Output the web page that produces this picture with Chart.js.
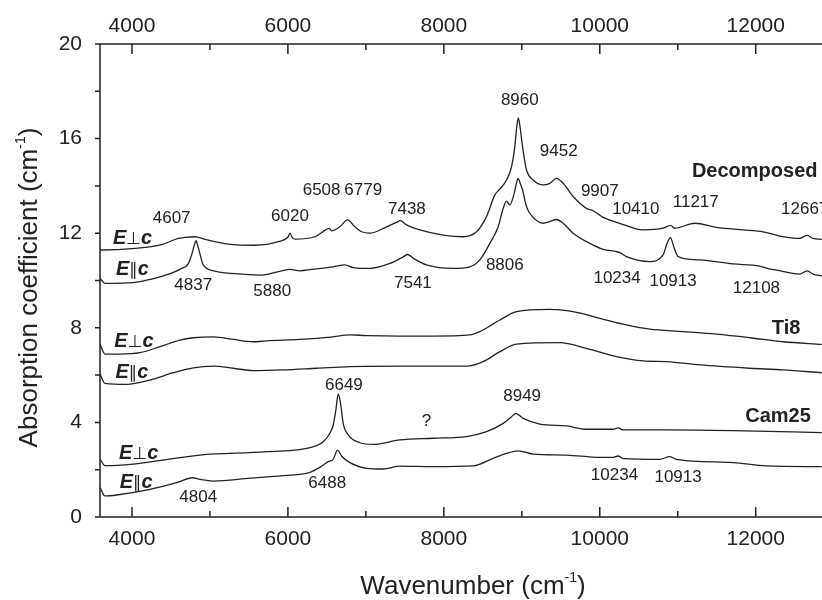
<!DOCTYPE html>
<html>
<head>
<meta charset="utf-8">
<script src="https://cdn.jsdelivr.net/npm/chart.js@4.4.1/dist/chart.umd.min.js"></script>
<style>
  html, body { margin: 0; padding: 0; background: #fff; }
  #wrap { width: 822px; height: 600px; }
</style>
</head>
<body>
<div id="wrap"><canvas id="spectra" width="822" height="600"></canvas></div>
<script>
// wavenumber (cm-1), absorption coefficient (cm-1)
const decPerp = [
  [3590, 11.32], [3612, 11.29], [4038, 11.36], [4380, 11.52], [4594, 11.78], [4679, 11.82],
  [4808, 11.85], [4936, 11.74], [5235, 11.54], [5577, 11.49], [5876, 11.64], [6004, 11.85],
  [6026, 12.0], [6060, 11.8], [6090, 11.75], [6346, 11.85], [6496, 12.16], [6530, 12.2],
  [6560, 12.1], [6667, 12.27], [6765, 12.56], [6859, 12.27], [6945, 12.06], [7051, 12.0],
  [7265, 12.27], [7414, 12.49], [7440, 12.53], [7522, 12.35], [7692, 12.14], [7991, 11.92],
  [8248, 11.85], [8419, 12.06], [8547, 12.7], [8654, 13.62], [8718, 13.86], [8804, 14.25],
  [8868, 14.81], [8910, 15.66], [8935, 16.5], [8955, 16.88], [8975, 16.55], [9000, 15.9],
  [9030, 15.2], [9060, 14.67], [9145, 14.25], [9274, 14.04], [9359, 14.11], [9444, 14.32],
  [9530, 14.11], [9658, 13.55], [9829, 13.05], [9914, 12.95], [10043, 12.67], [10256, 12.42],
  [10555, 12.14], [10812, 12.21], [10906, 12.33], [10962, 12.21], [11218, 12.42], [11496, 12.25],
  [11838, 12.14], [12094, 12.06], [12308, 11.88], [12564, 11.78], [12658, 11.91], [12735, 11.78],
  [12846, 11.74]
];
const decPar = [
  [3590, 10.09], [3654, 9.88], [4017, 9.91], [4252, 10.06], [4500, 10.3], [4637, 10.51],
  [4722, 10.7], [4765, 11.08], [4800, 11.5], [4822, 11.68], [4845, 11.45], [4870, 11.15],
  [4914, 10.66], [5064, 10.4], [5449, 10.26], [5663, 10.23], [5919, 10.41], [6026, 10.47],
  [6154, 10.41], [6304, 10.47], [6581, 10.58], [6731, 10.66], [6838, 10.54], [6945, 10.51],
  [7051, 10.51], [7308, 10.72], [7479, 11.0], [7534, 11.1], [7607, 10.94], [7778, 10.66],
  [8120, 10.51], [8333, 10.58], [8462, 10.87], [8590, 11.57], [8697, 12.27], [8761, 13.05],
  [8804, 13.36], [8846, 13.19], [8897, 13.62], [8930, 14.1], [8953, 14.32], [8980, 14.1],
  [9009, 13.83], [9060, 13.12], [9145, 12.67], [9274, 12.42], [9359, 12.49], [9444, 12.58],
  [9530, 12.42], [9658, 12.0], [9872, 11.57], [10043, 11.32], [10214, 11.22], [10256, 11.18],
  [10342, 11.01], [10641, 10.8], [10812, 11.08], [10863, 11.57], [10906, 11.81], [10949, 11.43],
  [11004, 11.01], [11282, 10.87], [11709, 10.7], [12051, 10.61], [12137, 10.52], [12265, 10.44],
  [12564, 10.27], [12658, 10.41], [12735, 10.27], [12846, 10.19]
];
const ti8Perp = [
  [3590, 7.3], [3654, 6.89], [3846, 6.89], [4103, 6.95], [4359, 7.2], [4615, 7.48],
  [4786, 7.58], [5043, 7.62], [5299, 7.51], [5556, 7.41], [5727, 7.45], [6154, 7.51],
  [6581, 7.62], [6795, 7.7], [7009, 7.67], [7436, 7.65], [7863, 7.65], [8333, 7.7],
  [8462, 7.84], [8718, 8.33], [8932, 8.68], [9359, 8.78], [9658, 8.68], [10000, 8.4],
  [10342, 8.12], [10641, 7.94], [11068, 7.84], [11496, 7.73], [11923, 7.58], [12350, 7.41],
  [12846, 7.3]
];
const ti8Par = [
  [3590, 6.05], [3654, 5.65], [3932, 5.61], [4231, 5.79], [4530, 6.1], [4786, 6.31],
  [5043, 6.38], [5299, 6.29], [5556, 6.19], [5940, 6.22], [6368, 6.29], [6795, 6.36],
  [7436, 6.38], [8291, 6.38], [8504, 6.57], [8718, 6.99], [8932, 7.31], [9487, 7.37],
  [9829, 7.13], [10214, 6.78], [10556, 6.6], [10855, 6.57], [11282, 6.43], [11923, 6.29],
  [12350, 6.22], [12846, 6.1]
];
const camPerp = [
  [3590, 2.45], [3654, 2.17], [4017, 2.24], [4872, 2.62], [5727, 2.76], [6325, 2.97],
  [6453, 3.18], [6538, 3.54], [6581, 3.89], [6615, 4.52], [6645, 5.19], [6675, 4.81],
  [6709, 3.96], [6774, 3.47], [6923, 3.14], [7094, 3.07], [7436, 3.26], [7863, 3.33],
  [8291, 3.4], [8547, 3.61], [8761, 3.96], [8868, 4.24], [8923, 4.38], [9017, 4.17],
  [9231, 3.93], [9573, 3.85], [9829, 3.71], [10171, 3.71], [10235, 3.77], [10299, 3.68],
  [10855, 3.68], [11709, 3.65], [12846, 3.57]
];
const camPar = [
  [3590, 1.25], [3654, 0.89], [3804, 0.93], [4231, 1.17], [4573, 1.45], [4778, 1.66],
  [4872, 1.59], [5043, 1.52], [5513, 1.64], [5940, 1.75], [6282, 1.89], [6410, 2.1],
  [6517, 2.34], [6581, 2.44], [6637, 2.83], [6688, 2.58], [6795, 2.3], [7009, 2.06],
  [7222, 2.03], [7436, 2.15], [7863, 2.13], [8376, 2.16], [8632, 2.48], [8803, 2.69],
  [8953, 2.8], [9145, 2.66], [9573, 2.62], [10000, 2.52], [10171, 2.52], [10235, 2.58],
  [10299, 2.47], [10769, 2.44], [10897, 2.55], [10983, 2.44], [11709, 2.3], [12137, 2.16],
  [12846, 2.13]
];

const xTicks = [4000, 5000, 6000, 7000, 8000, 9000, 10000, 11000, 12000];
const yTicks = [0, 2, 4, 6, 8, 10, 12, 14, 16, 18, 20];

// peak annotations: text, wavenumber, absorption
const peakLabels = [
  ['4607', 4509, 12.63], ['6020', 6026, 12.7], ['6508', 6432, 13.8], ['6779', 6966, 13.8],
  ['7438', 7526, 13.0], ['8960', 8974, 17.63], ['9452', 9474, 15.45], ['9907', 10000, 13.76],
  ['10410', 10462, 13.0], ['11217', 11231, 13.3], ['12667', 12628, 13.0],
  ['4837', 4786, 9.78], ['5880', 5799, 9.53], ['7541', 7603, 9.9], ['8806', 8782, 10.66],
  ['10234', 10222, 10.09], ['10913', 10940, 9.98], ['12108', 12009, 9.67],
  ['6649', 6718, 5.55], ['?', 7778, 4.03], ['8949', 9004, 5.09],
  ['4804', 4850, 0.83], ['6488', 6504, 1.42], ['10234', 10188, 1.78], ['10913', 11004, 1.66]
];
const sampleLabels = [['Decomposed', 11987, 14.6], ['Ti8', 12389, 7.97], ['Cam25', 12286, 4.24]];
// polarisation labels: symbol, wavenumber, absorption
const polLabels = [
  ['\u22a5', 4007, 11.86], ['\u2225', 4007, 10.51],
  ['\u22a5', 4026, 7.48], ['\u2225', 4000, 6.19],
  ['\u22a5', 4086, 2.76], ['\u2225', 4055, 1.52]
];

const FONT = '"Liberation Sans", Arial, Helvetica, sans-serif';
const INK = '#222';

function drawSupText(ctx, parts, x, y, size) {
    // parts: [main, sup, tail]; centred on x
    ctx.font = size + 'px ' + FONT;
    const w1 = ctx.measureText(parts[0]).width;
    const w3 = ctx.measureText(parts[2]).width;
    ctx.font = Math.round(size * 0.55) + 'px ' + FONT;
    const w2 = ctx.measureText(parts[1]).width;
    let sx = x - (w1 + w2 + w3) / 2;
    ctx.textAlign = 'left';
    ctx.textBaseline = 'alphabetic';
    ctx.font = size + 'px ' + FONT;
    ctx.fillText(parts[0], sx, y);
    ctx.font = Math.round(size * 0.55) + 'px ' + FONT;
    ctx.fillText(parts[1], sx + w1, y - size * 0.45);
    ctx.font = size + 'px ' + FONT;
    ctx.fillText(parts[2], sx + w1 + w2, y);
}

function drawPolLabel(ctx, sym, x, y) {
    const bi = 'italic bold 20px ' + FONT;
    const rg = '17px "DejaVu Sans", ' + FONT;
    ctx.font = bi;
    const wE = ctx.measureText('E').width;
    const wc = ctx.measureText('c').width;
    ctx.font = rg;
    const ws = ctx.measureText(sym).width;
    const base = y + 7;
    let sx = x - (wE + ws + wc) / 2;
    ctx.textAlign = 'left';
    ctx.textBaseline = 'alphabetic';
    ctx.font = bi;
    ctx.fillText('E', sx, base);
    ctx.font = rg;
    ctx.fillText(sym, sx + wE, base);
    ctx.font = bi;
    ctx.fillText('c', sx + wE + ws, base);
}

const framePlugin = {
    id: 'frame',
    afterDraw(chart) {
        const { ctx, chartArea: a, scales: { x, y } } = chart;
        ctx.save();
        ctx.strokeStyle = INK;
        ctx.lineWidth = 1.5;
        ctx.beginPath();
        ctx.moveTo(a.left, a.top); ctx.lineTo(a.right, a.top);
        ctx.moveTo(a.left, a.top); ctx.lineTo(a.left, a.bottom);
        ctx.moveTo(a.left, a.bottom); ctx.lineTo(a.right, a.bottom);
        xTicks.forEach(v => {
            const px = x.getPixelForValue(v);
            const len = v % 2000 === 0 ? 10 : 6;
            ctx.moveTo(px, a.top); ctx.lineTo(px, a.top + len);
            ctx.moveTo(px, a.bottom); ctx.lineTo(px, a.bottom - len);
        });
        yTicks.forEach(v => {
            const py = y.getPixelForValue(v);
            ctx.moveTo(a.left - 5, py); ctx.lineTo(a.left, py);
        });
        ctx.stroke();

        ctx.fillStyle = INK;
        ctx.textAlign = 'center';
        ctx.textBaseline = 'middle';
        ctx.font = '17px ' + FONT;
        peakLabels.forEach(([t, wn, ab]) => {
            ctx.fillText(t, x.getPixelForValue(wn), y.getPixelForValue(ab));
        });
        ctx.font = 'bold 20px ' + FONT;
        sampleLabels.forEach(([t, wn, ab]) => {
            ctx.fillText(t, x.getPixelForValue(wn), y.getPixelForValue(ab));
        });
        polLabels.forEach(([sym, wn, ab]) => {
            drawPolLabel(ctx, sym, x.getPixelForValue(wn), y.getPixelForValue(ab));
        });

        // axis titles
        drawSupText(ctx, ['Wavenumber (cm', '-1', ')'], (a.left + a.right) / 2 + 12, 594, 26);
        ctx.save();
        ctx.translate(37, (a.top + a.bottom) / 2 + 7);
        ctx.rotate(-Math.PI / 2);
        drawSupText(ctx, ['Absorption coefficient (cm', '-1', ')'], 0, 0, 26);
        ctx.restore();
        ctx.restore();
    }
};

const toPoints = arr => arr.map(([wn, ab]) => ({ x: wn, y: ab }));
const seriesList = [decPerp, decPar, ti8Perp, ti8Par, camPerp, camPar];

const tickFont = { family: FONT, size: 21 };

new Chart(document.getElementById('spectra').getContext('2d'), {
    type: 'scatter',
    data: {
        datasets: seriesList.map(s => ({
            data: toPoints(s),
            showLine: true,
            pointRadius: 0,
            borderColor: INK,
            borderWidth: 1.3,
            cubicInterpolationMode: 'monotone',
            fill: false
        }))
    },
    options: {
        responsive: false,
        animation: false,
        layout: { padding: 0 },
        plugins: {
            legend: { display: false },
            tooltip: { enabled: false }
        },
        scales: {
            x: {
                type: 'linear',
                position: 'bottom',
                min: 3590,
                max: 12850,
                grid: { display: false },
                border: { display: false },
                afterBuildTicks: scale => { scale.ticks = xTicks.map(v => ({ value: v })); },
                afterFit: scale => { scale.height = 83; },
                ticks: {
                    autoSkip: false,
                    maxRotation: 0,
                    padding: 2,
                    color: INK,
                    font: tickFont,
                    callback: v => (v % 2000 === 0 ? String(v) : '')
                }
            },
            xTop: {
                type: 'linear',
                position: 'top',
                min: 3590,
                max: 12850,
                grid: { display: false },
                border: { display: false },
                afterBuildTicks: scale => { scale.ticks = xTicks.map(v => ({ value: v })); },
                afterFit: scale => { scale.height = 44; },
                ticks: {
                    autoSkip: false,
                    maxRotation: 0,
                    padding: -3,
                    color: INK,
                    font: tickFont,
                    callback: v => (v % 2000 === 0 ? String(v) : '')
                }
            },
            y: {
                type: 'linear',
                min: 0,
                max: 20,
                grid: { display: false },
                border: { display: false },
                afterBuildTicks: scale => { scale.ticks = yTicks.map(v => ({ value: v })); },
                afterFit: scale => { scale.width = 100; },
                ticks: {
                    autoSkip: false,
                    padding: 10,
                    color: INK,
                    font: tickFont,
                    callback: v => (v % 4 === 0 ? String(v) : '')
                }
            }
        }
    },
    plugins: [framePlugin]
});
</script>
</body>
</html>
